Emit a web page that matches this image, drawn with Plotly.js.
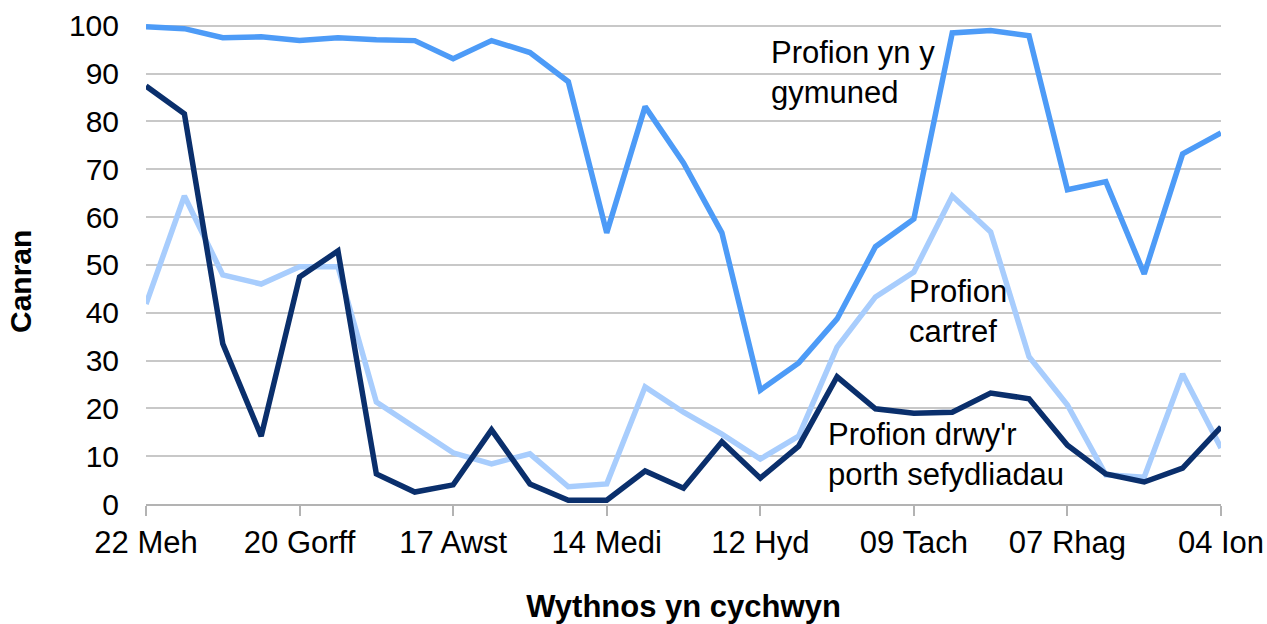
<!DOCTYPE html>
<html>
<head>
<meta charset="utf-8">
<script src="https://cdn.plot.ly/plotly-3.0.1.min.js"></script>
<style>html,body{margin:0;padding:0;background:#fff;}#chart{width:1267px;height:624px;}</style>
</head>
<body>
<div id="chart"></div>
<script>
// Week index 0..28 (weekly, starting 22 Meh)
const weeks = [0,1,2,3,4,5,6,7,8,9,10,11,12,13,14,15,16,17,18,19,20,21,22,23,24,25,26,27,28];
const tickWeeks = [0,4,8,12,16,20,24,28];
const tickLabels = ["22 Meh","20 Gorff","17 Awst","14 Medi","12 Hyd","09 Tach","07 Rhag","04 Ion"];
const yTicks = [0,10,20,30,40,50,60,70,80,90,100];

const community = [99.8,99.4,97.5,97.7,96.9,97.5,97.1,96.9,93.1,96.9,94.4,88.3,56.7,83.1,71.3,56.7,23.8,29.5,38.7,53.8,59.6,98.5,99.0,97.9,65.7,67.4,48.1,73.2,77.6];
const home = [41.8,64.4,47.9,46.0,49.6,49.6,21.3,15.9,10.7,8.4,10.5,3.6,4.2,24.5,19.2,14.6,9.4,14.2,32.8,43.3,48.5,64.4,56.9,30.8,20.7,6.1,5.6,27.2,11.7];
const institutional = [87.4,81.6,33.5,14.2,47.5,52.9,6.3,2.5,4.0,15.5,4.2,0.8,0.8,6.9,3.3,13.0,5.4,12.1,26.6,19.9,19.0,19.2,23.2,22.0,12.3,6.3,4.6,7.5,16.1];

const seriesNames = ["Profion yn y gymuned","Profion cartref","Profion drwy'r porth sefydliadau"];
const labelTexts = ["Profion yn y<br>gymuned","Profion<br>cartref","Profion drwy'r<br>porth sefydliadau"];

const FONT = "Liberation Sans, Arial, sans-serif";

const traces = [
  {x: weeks, y: community, name: seriesNames[0], mode: "lines", line: {color: "#4d9bf7", width: 5.5}},
  {x: weeks, y: home, name: seriesNames[1], mode: "lines", line: {color: "#a8cdfd", width: 5.5}},
  {x: weeks, y: institutional, name: seriesNames[2], mode: "lines", line: {color: "#0a2f6c", width: 5.5}}
];

const annFont = {family: FONT, size: 31, color: "#000"};

const layout = {
  width: 1267, height: 624,
  margin: {l: 146, r: 46, t: 21, b: 120},
  paper_bgcolor: "#ffffff", plot_bgcolor: "#ffffff",
  showlegend: false,
  font: {family: FONT, size: 30, color: "#000"},
  xaxis: {
    range: [0, 28],
    tickvals: tickWeeks, ticktext: tickLabels,
    ticks: "outside", ticklen: 10, tickcolor: "#b3b3b3", tickwidth: 2,
    showline: true, linecolor: "#b3b3b3", linewidth: 2,
    showgrid: false, zeroline: false,
    tickfont: {family: FONT, size: 31, color: "#000"},
    title: {text: "<b>Wythnos yn cychwyn</b>", font: {family: FONT, size: 31, color: "#000"}, standoff: 38}
  },
  yaxis: {
    range: [0, 101],
    tickvals: yTicks,
    showgrid: true, gridcolor: "#c8c8c8", gridwidth: 2,
    zeroline: false, showline: false, ticks: "",
    ticklabelstandoff: 26,
    tickfont: {family: FONT, size: 30, color: "#000"}
  },
  annotations: [
    {x: -0.1163, y: 0.4617, xref: "paper", yref: "paper", text: "<b>Canran</b>", textangle: -90, showarrow: false, xanchor: "center", yanchor: "middle", font: {family: FONT, size: 30, color: "#000"}},
    {x: 16.22, y: 90.3, xref: "x", yref: "y", text: labelTexts[0], showarrow: false, xanchor: "left", yanchor: "middle", align: "left", font: annFont},
    {x: 19.82, y: 40.2, xref: "x", yref: "y", text: labelTexts[1], showarrow: false, xanchor: "left", yanchor: "middle", align: "left", font: annFont},
    {x: 17.72, y: 10.3, xref: "x", yref: "y", text: labelTexts[2], showarrow: false, xanchor: "left", yanchor: "middle", align: "left", font: annFont}
  ]
};

Plotly.newPlot("chart", traces, layout, {displayModeBar: false, staticPlot: true});
</script>
</body>
</html>
